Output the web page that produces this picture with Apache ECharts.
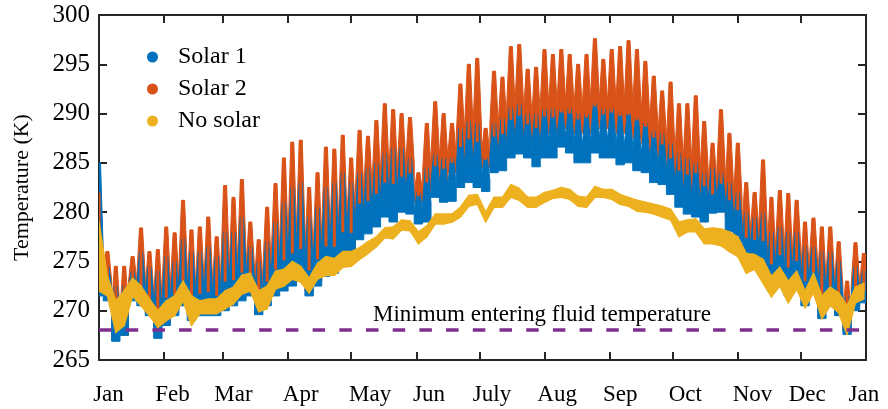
<!DOCTYPE html>
<html>
<head>
<meta charset="utf-8">
<script src="https://cdn.jsdelivr.net/npm/echarts@6/dist/echarts.min.js"></script>
<style>
  html, body { margin: 0; padding: 0; background: #fff; }
  #chart { width: 888px; height: 409px; }
</style>
</head>
<body>
<div id="chart"></div>
<script>
// day of year (bin centres, 4-day bins)
const days = [0, 4, 8, 12, 16, 20, 24, 28, 32, 36, 40, 44, 48, 52, 56, 60, 64, 68, 72, 76, 80, 84, 88, 92,
  96, 100, 104, 108, 112, 116, 120, 124, 128, 132, 136, 140, 144, 148, 152, 156, 160, 164, 168, 172, 176, 180,
  184, 188, 192, 196, 200, 204, 208, 212, 216, 220, 224, 228, 232, 236, 240, 244, 248, 252, 256, 260, 264, 268,
  272, 276, 280, 284, 288, 292, 296, 300, 304, 308, 312, 316, 320, 324, 328, 332, 336, 340, 344, 348, 352, 356,
  360, 364];

const solar2High = [282, 276, 274.5, 274.5, 275.5, 278.4, 276, 276.2, 278.5, 277.9, 281.2, 278.2, 278.5, 279.5,
  277.5, 282.7, 281.5, 283.3, 279, 277.2, 280.5, 282.9, 285.5, 287.1, 287.3, 282.5, 284, 286.6, 286.4, 287.8,
  285.5, 288.3, 287.7, 289.3, 291, 290.4, 290, 289.6, 284, 289, 291.2, 290, 289, 293, 295, 295.6, 288.5, 294.3,
  293.7, 296.8, 297, 294.5, 294.7, 296.5, 296, 296.5, 296, 295, 296, 297.6, 295.5, 296.5, 296.8, 297.4, 296.5,
  295.3, 293.8, 292.3, 293.2, 291, 291, 291.8, 289.2, 287, 290.4, 288, 287, 283, 282, 285.3, 281.5, 282.2, 281.9,
  281.2, 279, 279.4, 278.5, 278.5, 277, 273, 276.9, 275.8];
const solar2Low = [272.5, 271.5, 267.5, 267.5, 271.5, 271, 270, 268.5, 269.5, 270, 271, 269.5, 270, 270, 270,
  270.5, 271, 271.5, 272, 270.5, 271, 272, 272.5, 273, 273.5, 272, 273, 274, 274, 275.5, 276, 279, 279.5, 280,
  281, 281, 282, 282.5, 281, 281.5, 283, 283, 284, 285, 285.5, 285, 284.5, 286, 286.5, 287.5, 288, 287.5, 287,
  288, 288, 288.5, 288.5, 288, 288, 289, 288.5, 288.5, 288, 288, 287.5, 287, 286, 285.5, 283.5, 282.5, 282, 282,
  281, 280.5, 281, 279.5, 278.5, 276, 276, 275, 273, 274, 272.5, 273.5, 271.5, 272.5, 270, 271, 270, 268, 270.5,
  271];

const solar1High = [285, 274.5, 272.5, 272.5, 274, 276, 274.5, 274, 275.5, 275, 277.3, 276, 276, 276.5, 275.5,
  278, 278, 279.5, 276.5, 275, 277, 279, 281, 282.5, 283, 279.5, 280.5, 282.5, 283, 284, 283, 284, 284.5, 285,
  286, 286.5, 286.5, 285.5, 282, 284.5, 285.9, 285.5, 285.5, 288.5, 289.2, 289, 285.5, 289, 289.5, 290.6, 291,
  290, 290, 290.5, 290.5, 290.3, 290.5, 290, 290, 291, 290.5, 290.5, 290, 290, 289.5, 289, 288.2, 288, 287, 286,
  285.5, 285, 284, 284.5, 284, 283, 282, 280, 279.5, 280, 278, 278.5, 278, 278, 276.5, 276.5, 276, 276, 275,
  271.5, 274.5, 274];
const solar1Low = [271.5, 271, 266.9, 267.5, 271, 270.5, 269.5, 267.2, 268.5, 269.5, 270.5, 269, 269.5, 269.5,
  269.5, 270, 270.5, 271, 271.5, 269.6, 270.5, 271.5, 272, 272.5, 273, 271.5, 272.5, 273.5, 273.8, 275, 275.5,
  277.2, 277.8, 278.5, 279.5, 279, 280, 279.8, 278.8, 279, 281.5, 281, 281.1, 282.5, 283, 282.5, 282.1, 284,
  284.2, 285.5, 285.9, 285.5, 284.6, 285.5, 285.5, 286.6, 286, 285, 285, 286, 285.5, 285.5, 284.8, 285, 284.2,
  284, 283, 282.8, 281.8, 280.5, 279.8, 279.5, 279, 279.9, 280, 278, 277, 275, 275, 274, 272, 273, 271.5, 272.5,
  270.5, 272, 269.2, 270.5, 269.5, 267.6, 270, 270.8];

const noSolarHigh = [279, 273.5, 271, 272, 273.3, 272.5, 271.2, 270, 271, 271.5, 273, 271.5, 271, 271.2, 271.2,
  272, 272.4, 273.6, 273.8, 272, 272.5, 274, 274.2, 275, 274.5, 273.3, 274.8, 275.5, 275.3, 276, 276, 276.4, 277,
  277.5, 278.4, 278.5, 279.2, 279.1, 278, 278.6, 279.8, 279.8, 279.8, 280.5, 281.7, 281.8, 280, 281.5, 281.5,
  282.8, 282.4, 281.5, 281.5, 282, 282.2, 282.5, 282.3, 281.6, 281.5, 282.6, 282.3, 282.3, 281.8, 281.5, 281.2,
  281, 280.8, 280.6, 280.3, 279, 279.2, 279.3, 278.3, 278.4, 278.3, 278, 277.5, 275.8, 275.7, 275.2, 273.5,
  274.4, 273, 274, 272, 273.8, 271.5, 272.4, 271.8, 270.5, 272.4, 272.8];
const noSolarLow = [272, 271.5, 267.8, 268.5, 271.5, 270.5, 269.5, 268.3, 269, 269.5, 271, 268.5, 269.7, 269.7,
  269.7, 270.2, 270.7, 271.7, 272, 269.9, 270.2, 272.2, 272.5, 273.2, 272.9, 271.8, 273.2, 273.6, 273.6, 274.4,
  274.5, 275.2, 275.8, 276.5, 277.4, 277.3, 278.2, 278.1, 276.8, 277.5, 278.8, 278.8, 279, 279.5, 280.6, 280.8,
  279, 280.5, 280.5, 281.5, 281.2, 280.5, 280.5, 281, 281.4, 281.5, 281.3, 280.6, 280.5, 281.5, 281.5, 281.3,
  280.8, 280.6, 280.1, 280, 279.8, 279.5, 279.2, 277.5, 278, 278, 276.8, 276.8, 276.6, 276, 275.5, 273.8, 274.2,
  272.8, 271.4, 272.5, 270.8, 272.2, 270.3, 271.8, 269.2, 270.5, 269.8, 267.6, 270.8, 271.2];

const minEnteringTemp = 268.1;

// month boundaries (ticks) and where the month names sit
const monthTicks = [0, 31, 59, 90, 120, 151, 181, 212, 243, 273, 304, 334, 365];
const labelDays = [4.5, 35, 64, 96, 129, 157, 187, 218, 248, 279, 311, 337, 364];
const monthLabels = ["Jan", "Feb", "Mar", "Apr", "May", "Jun", "July", "Aug", "Sep", "Oct", "Nov", "Dec", "Jan"];

const BIN = 4;
const FONT = '"Liberation Serif", "Times New Roman", serif';
const AXIS_COLOR = "#262626";
const COLORS = { solar1: "#0072BD", solar2: "#D95319", noSolar: "#EDB120", minLine: "#7E2F8E" };

function rangeData(lows, highs) {
  return days.map((d, i) => [d, lows[i], highs[i]]);
}

// daily swings drawn as spikes: full width near the low value, narrowing to the high value
function spikeRenderer(color, shoulder) {
  return (params, api) => {
    const lo = api.coord([api.value(0), api.value(1)]);
    const hi = api.coord([api.value(0), api.value(2)]);
    const half = api.size([BIN, 0])[0] / 2;
    const ys = lo[1] + (hi[1] - lo[1]) * shoulder;
    return {
      type: "polygon",
      shape: {
        points: [
          [lo[0] - half, lo[1]], [lo[0] - half, ys], [lo[0] - 1.5, hi[1]],
          [lo[0] + 1.5, hi[1]], [lo[0] + half, ys], [lo[0] + half, lo[1]],
        ],
      },
      style: { fill: color, stroke: color, lineWidth: 1 },
    };
  };
}

// thin streak of the upper part of a swing, laid over the series below it
function streakRenderer(color, from) {
  return (params, api) => {
    const lo = api.coord([api.value(0), api.value(1)]);
    const hi = api.coord([api.value(0), api.value(2)]);
    const ys = lo[1] + (hi[1] - lo[1]) * from;
    return {
      type: "rect",
      shape: { x: lo[0] - 1.5, y: hi[1], width: 3, height: ys - hi[1] },
      style: { fill: color },
    };
  };
}

// continuous band between consecutive bins
function bandRenderer(color, lows, highs) {
  return (params, api) => {
    const i = params.dataIndex;
    if (i >= days.length - 1) return null;
    const a = api.coord([days[i], highs[i]]);
    const b = api.coord([days[i + 1], highs[i + 1]]);
    const c = api.coord([days[i + 1], lows[i + 1]]);
    const d = api.coord([days[i], lows[i]]);
    return {
      type: "polygon",
      shape: { points: [a, b, c, d] },
      style: { fill: color, stroke: color, lineWidth: 1.5, lineJoin: "round" },
    };
  };
}

const chart = echarts.init(document.getElementById("chart"));

const boxAxis = {
  axisLine: { show: true, onZero: false, lineStyle: { color: AXIS_COLOR, width: 2 } },
  splitLine: { show: false },
};
const tickStyle = { show: true, inside: true, length: 8, lineStyle: { color: AXIS_COLOR, width: 2 } };

chart.setOption({
  animation: false,
  backgroundColor: "#fff",
  grid: { left: 99, right: 22, top: 15, bottom: 49 },
  legend: {
    orient: "vertical",
    left: 142,
    top: 40,
    icon: "circle",
    itemWidth: 11,
    itemHeight: 11,
    itemGap: 8,
    textStyle: { fontFamily: FONT, fontSize: 24, color: "#000", padding: [0, 0, 0, 15] },
    data: ["Solar 1", "Solar 2", "No solar"],
  },
  xAxis: [
    {
      ...boxAxis,
      type: "value",
      position: "bottom",
      min: 0,
      max: 365,
      axisTick: { ...tickStyle, customValues: monthTicks },
      axisLabel: {
        customValues: labelDays,
        formatter: (v) => monthLabels[labelDays.indexOf(v)] || "",
        fontFamily: FONT,
        fontSize: 23,
        color: "#000",
        margin: 23,
      },
    },
    {
      ...boxAxis,
      type: "value",
      position: "top",
      min: 0,
      max: 365,
      axisTick: { ...tickStyle, customValues: monthTicks },
      axisLabel: { show: false },
    },
  ],
  yAxis: [
    {
      ...boxAxis,
      type: "value",
      position: "left",
      min: 265,
      max: 300,
      interval: 5,
      axisTick: tickStyle,
      axisLabel: { fontFamily: FONT, fontSize: 25, color: "#000", margin: 9 },
      name: "Temperature (K)",
      nameLocation: "middle",
      nameGap: 66,
      nameRotate: 90,
      nameTextStyle: { fontFamily: FONT, fontSize: 22, color: "#000" },
    },
    {
      ...boxAxis,
      type: "value",
      position: "right",
      min: 265,
      max: 300,
      interval: 5,
      axisTick: tickStyle,
      axisLabel: { show: false },
    },
  ],
  series: [
    {
      name: "Solar 2",
      type: "custom",
      clip: true,
      z: 2,
      itemStyle: { color: COLORS.solar2 },
      renderItem: spikeRenderer(COLORS.solar2, 0.35),
      encode: { x: 0, y: [1, 2] },
      data: rangeData(solar2Low, solar2High),
    },
    {
      name: "Solar 1",
      type: "custom",
      clip: true,
      z: 3,
      itemStyle: { color: COLORS.solar1 },
      renderItem: spikeRenderer(COLORS.solar1, 0.35),
      encode: { x: 0, y: [1, 2] },
      data: rangeData(solar1Low, solar1High),
    },
    {
      name: "Solar 2",
      type: "custom",
      clip: true,
      z: 3.5,
      itemStyle: { color: COLORS.solar2 },
      renderItem: streakRenderer(COLORS.solar2, 0.2),
      encode: { x: 0, y: [1, 2] },
      data: rangeData(solar2Low, solar2High),
    },
    {
      name: "No solar",
      type: "custom",
      clip: true,
      z: 4,
      itemStyle: { color: COLORS.noSolar },
      renderItem: bandRenderer(COLORS.noSolar, noSolarLow, noSolarHigh),
      encode: { x: 0, y: [1, 2] },
      data: rangeData(noSolarLow, noSolarHigh),
    },
    {
      name: "min",
      type: "line",
      data: [],
      z: 5,
      markLine: {
        silent: true,
        symbol: "none",
        label: { show: false },
        lineStyle: { color: COLORS.minLine, width: 3.5, type: [12.5, 14.2] },
        data: [{ yAxis: minEnteringTemp }],
      },
    },
  ],
  graphic: [
    {
      type: "text",
      left: 373,
      top: 303,
      z: 10,
      style: { text: "Minimum entering fluid temperature", font: '23px ' + FONT, fill: "#000" },
    },
  ],
});
</script>
</body>
</html>
